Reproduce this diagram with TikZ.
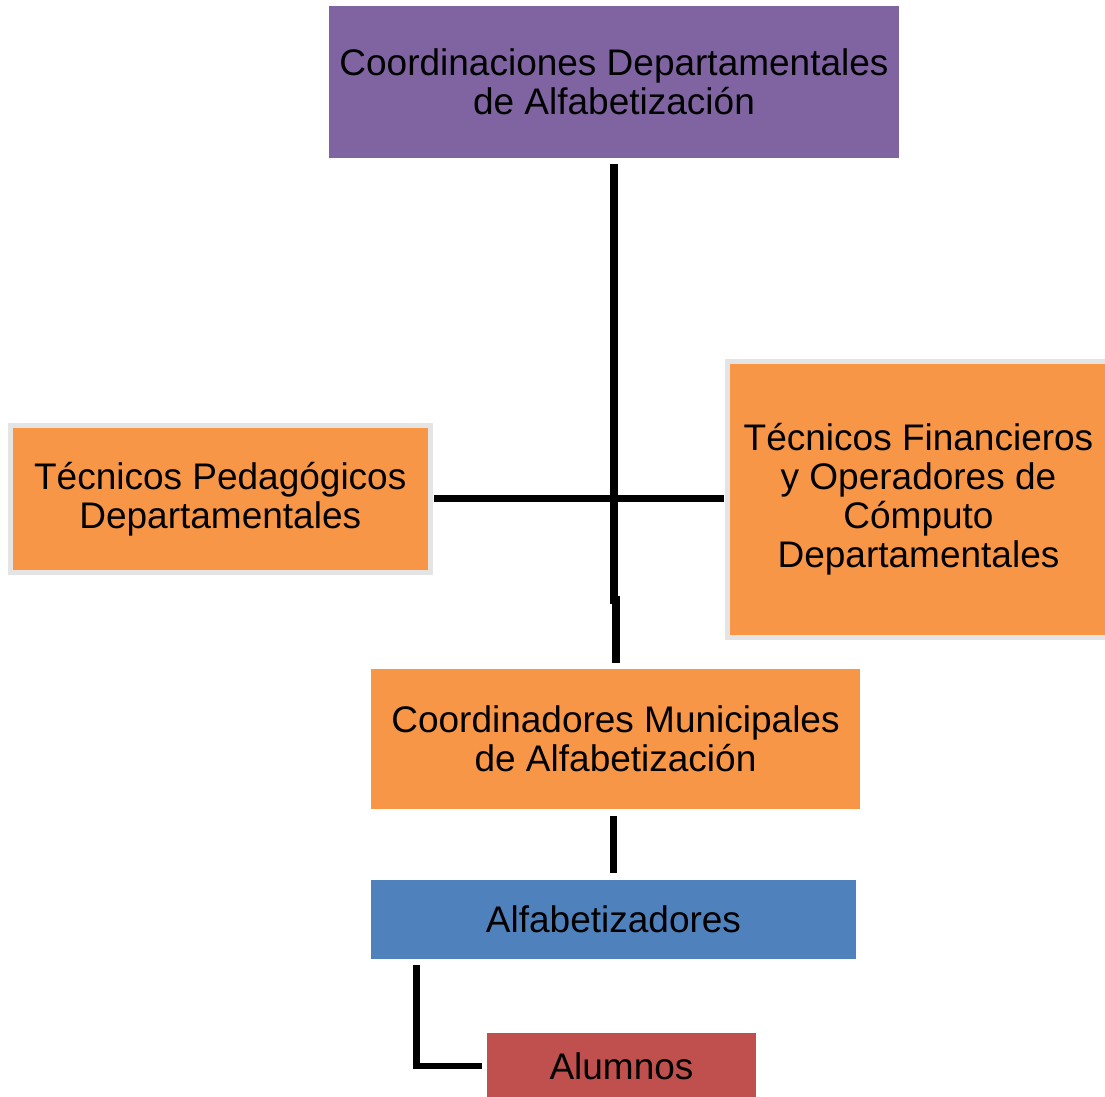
\documentclass[tikz,border=0pt]{standalone}
\usepackage{fontspec}
\setmainfont{Liberation Sans}
\definecolor{cpurple}{HTML}{8064A2}
\definecolor{corange}{HTML}{F79646}
\definecolor{cblue}{HTML}{4F81BD}
\definecolor{cred}{HTML}{C0504D}
\definecolor{cedge}{HTML}{E4E4E4}
\begin{document}
\begin{tikzpicture}[x=1pt,y=-1pt,
  box/.style={rectangle, inner sep=0pt, outer sep=0pt, align=center,
    font=\fontsize{37}{39}\selectfont, text=black},
  framed/.style={box, draw=cedge, line width=5pt},
  link/.style={draw=black, line width=7pt}]
\useasboundingbox (0,0) rectangle (1105,1096);
\fill[white] (0,0) rectangle (1105,1096);

\node[box, fill=cpurple, minimum width=570pt, minimum height=152pt] (coord) at (614,82)
  {Coordinaciones Departamentales\\de Alfabetización};
\node[framed, fill=corange, minimum width=419.5pt, minimum height=146.5pt] (ped) at (220.25,498.75)
  {Técnicos Pedagógicos\\Departamentales};
\node[framed, fill=corange, minimum width=383pt, minimum height=276pt] (fin) at (918.5,499.5)
  {Técnicos Financieros\\y Operadores de\\Cómputo\\Departamentales};
\node[box, fill=corange, minimum width=489pt, minimum height=140pt] (mun) at (615.5,739)
  {Coordinadores Municipales\\de Alfabetización};
\node[box, fill=cblue, minimum width=485pt, minimum height=79pt] (alf) at (613.5,919.5)
  {Alfabetizadores};
\node[box, fill=cred, minimum width=269pt, minimum height=66pt] (alu) at (621.5,1066)
  {Alumnos};

\coordinate (v1) at (614,600);
\coordinate (v2) at (616,600);
\draw[link, line width=8pt] ([yshift=-6pt]coord.south) -- (v1) -- (v2) -- ([yshift=6pt]v2 |- mun.north);
\draw[link] ([xshift=4pt]ped.east) -- ([xshift=-3pt]ped.east -| fin.west);
\draw[link, shorten <=7pt, shorten >=7pt] (alf.north |- mun.south) -- (alf.north);
\draw[link, line width=6.5pt] ([xshift=45.5pt,yshift=-6pt]alf.south west) |- ([xshift=-5pt]alu.west);
\end{tikzpicture}
\end{document}
